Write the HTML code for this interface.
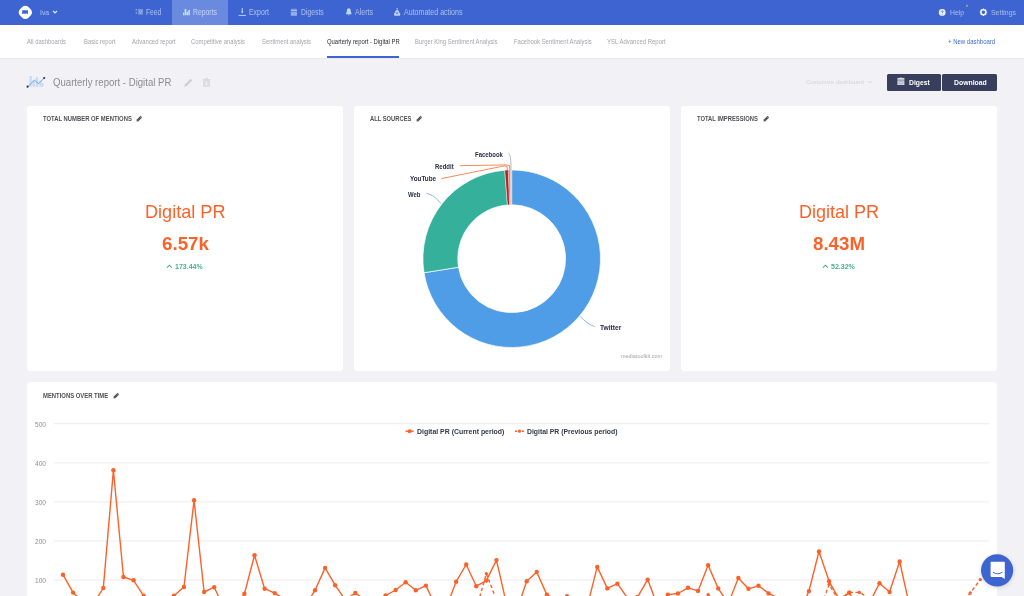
<!DOCTYPE html>
<html><head><meta charset="utf-8"><style>
html,body{margin:0;padding:0;}
body{width:1024px;height:596px;overflow:hidden;position:relative;background:#f2f2f6;font-family:"Liberation Sans",sans-serif;}
.t{position:absolute;line-height:1;white-space:nowrap;transform-origin:0 0;}
.r{position:absolute;}
.s{position:absolute;overflow:visible;}
</style></head><body>
<div class="r" style="left:0px;top:0px;width:1024px;height:25px;background:#3d64d0;"></div>
<div class="r" style="left:172px;top:0px;width:56px;height:25px;background:#6a8ae0;"></div>
<svg class="s" style="left:18px;top:5px;" width="15" height="15" viewBox="0 0 15 15"><rect x="1.35" y="1.3" width="12" height="12" rx="4.4" fill="#fff" transform="rotate(45 7.35 7.3)"/><path d="M4.2 5.2 H9.9 V9.1 H8.6 V8.2 H7.6 V9.1 H6.4 V8.2 H5.5 V9.1 H4.2 Z" fill="#3d64d0"/></svg>
<div class="t" style="left:39.90px;top:9.13px;font-size:8.00px;color:rgba(255,255,255,0.58);transform:scaleX(0.8527);">Iva</div>
<svg class="s" style="left:52px;top:10px;" width="6" height="4" viewBox="0 0 6 4"><path d="M1 1 L3 3 L5 1" stroke="rgba(255,255,255,0.85)" stroke-width="1.1" fill="none"/></svg>
<svg class="s" style="left:134px;top:8px;" width="11" height="8" viewBox="0 0 11 8"><g fill="rgba(215,232,255,0.72)"><circle cx="2.3" cy="1.8" r="0.7"/><circle cx="2.3" cy="5" r="0.7"/><rect x="4" y="0.9" width="5" height="5.8" fill="rgba(215,232,255,0.35)"/><circle cx="5.5" cy="3" r="0.6"/><circle cx="7.6" cy="3" r="0.6"/><circle cx="6.6" cy="5.1" r="0.6"/></g></svg>
<div class="t" style="left:146.10px;top:8.62px;font-size:8.20px;color:rgba(255,255,255,0.58);transform:scaleX(0.8186);">Feed</div>
<svg class="s" style="left:182px;top:8px;" width="9" height="8" viewBox="0 0 9 8"><g fill="rgba(215,235,255,0.85)"><rect x="1" y="4.6" width="1.3" height="2.7"/><rect x="2.6" y="1" width="1.7" height="6.3"/><rect x="4.6" y="3.6" width="1.4" height="3.7"/><rect x="6.3" y="2" width="1.6" height="5.3"/></g></svg>
<div class="t" style="left:193.30px;top:8.62px;font-size:8.20px;color:rgba(255,255,255,0.62);transform:scaleX(0.8359);">Reports</div>
<svg class="s" style="left:238px;top:7px;" width="9" height="10" viewBox="0 0 9 10"><g fill="rgba(215,235,255,0.8)"><path d="M3.7 1 H4.8 V4.6 L5.6 4.6 L4.25 6.4 L2.9 4.6 H3.7 Z"/><rect x="0.6" y="7.9" width="7.4" height="1"/></g></svg>
<div class="t" style="left:249.20px;top:8.62px;font-size:8.20px;color:rgba(255,255,255,0.58);transform:scaleX(0.8439);">Export</div>
<svg class="s" style="left:290px;top:7px;" width="9" height="10" viewBox="0 0 9 10"><g fill="rgba(215,232,255,0.72)"><rect x="0.8" y="2.6" width="6.2" height="1.6"/><rect x="1.6" y="1.6" width="0.7" height="1"/><rect x="3.6" y="1.4" width="0.7" height="1.2"/><rect x="5.5" y="1.6" width="0.7" height="1"/><rect x="0.8" y="4.8" width="6.2" height="4" fill="rgba(215,232,255,0.55)"/></g></svg>
<div class="t" style="left:301.10px;top:8.62px;font-size:8.20px;color:rgba(255,255,255,0.58);transform:scaleX(0.8338);">Digests</div>
<svg class="s" style="left:345px;top:7px;" width="8" height="10" viewBox="0 0 8 10"><path d="M3.8 1.3 C2.2 1.3 1.8 2.8 1.8 4.6 L0.9 7.3 H6.7 L5.8 4.6 C5.8 2.8 5.4 1.3 3.8 1.3 Z M3 7.8 H4.6 L3.8 8.8Z" fill="rgba(215,235,255,0.85)"/></svg>
<div class="t" style="left:355.20px;top:8.62px;font-size:8.20px;color:rgba(255,255,255,0.58);transform:scaleX(0.8587);">Alerts</div>
<svg class="s" style="left:393px;top:7px;" width="9" height="10" viewBox="0 0 9 10"><g fill="rgba(215,235,255,0.8)"><rect x="3.6" y="1" width="1" height="1.8"/><path d="M4.1 2.4 L6.2 4.6 L5.9 5.6 H2.3 L2 4.6 Z"/><path d="M1.6 5.4 H6.6 L7.4 7 L6.8 8.8 H1.4 L0.8 7 Z"/></g><circle cx="4.1" cy="6.3" r="0.7" fill="#3d64d0"/></svg>
<div class="t" style="left:404.40px;top:8.62px;font-size:8.20px;color:rgba(255,255,255,0.58);transform:scaleX(0.8628);">Automated actions</div>
<svg class="s" style="left:937px;top:7px;" width="10" height="10" viewBox="0 0 10 10"><circle cx="5.2" cy="5.4" r="3.4" fill="rgba(255,255,255,0.9)"/><path d="M4.2 4.6 C4.2 3.6 6.2 3.6 6.2 4.6 C6.2 5.3 5.2 5.2 5.2 6" stroke="#3d64d0" stroke-width="0.8" fill="none"/><circle cx="5.2" cy="7" r="0.45" fill="#3d64d0"/></svg>
<div class="t" style="left:949.60px;top:8.73px;font-size:8.00px;color:rgba(255,255,255,0.55);transform:scaleX(0.8630);">Help</div>
<svg class="s" style="left:965px;top:3.5px;" width="4" height="4" viewBox="0 0 4 4"><circle cx="2" cy="1.8" r="1.1" fill="#a89f84"/></svg>
<svg class="s" style="left:978px;top:7px;" width="10" height="10" viewBox="0 0 10 10"><circle cx="5.4" cy="5.3" r="2.5" fill="none" stroke="rgba(255,255,255,0.9)" stroke-width="1.6"/><g stroke="rgba(255,255,255,0.9)" stroke-width="1.1"><path d="M5.4 1.6V2.5M5.4 8.1V9M1.7 5.3H2.6M8.2 5.3H9.1M2.8 2.7L3.4 3.3M7.4 7.3L8 7.9M2.8 7.9L3.4 7.3M7.4 3.3L8 2.7"/></g></svg>
<div class="t" style="left:990.70px;top:8.73px;font-size:8.00px;color:rgba(255,255,255,0.55);transform:scaleX(0.8648);">Settings</div>
<div class="r" style="left:0px;top:25px;width:1024px;height:33px;background:#ffffff;"></div>
<div class="r" style="left:0px;top:58px;width:1024px;height:1px;background:#e9e9ee;"></div>
<div class="t" style="left:26.90px;top:39.11px;font-size:6.30px;color:#a5a5ac;transform:scaleX(0.9358);">All dashboards</div>
<div class="t" style="left:83.75px;top:39.11px;font-size:6.30px;color:#a5a5ac;transform:scaleX(0.9371);">Basic report</div>
<div class="t" style="left:131.60px;top:39.11px;font-size:6.30px;color:#a5a5ac;transform:scaleX(0.9453);">Advanced report</div>
<div class="t" style="left:191.25px;top:39.11px;font-size:6.30px;color:#a5a5ac;transform:scaleX(0.9347);">Competitive analysis</div>
<div class="t" style="left:261.60px;top:39.11px;font-size:6.30px;color:#a5a5ac;transform:scaleX(0.9267);">Sentiment analysis</div>
<div class="t" style="left:326.70px;top:39.11px;font-size:6.30px;color:#2b2b33;transform:scaleX(0.9366);">Quarterly report - Digital PR</div>
<div class="t" style="left:415.30px;top:39.11px;font-size:6.30px;color:#a5a5ac;transform:scaleX(0.9360);">Burger King Sentiment Analysis</div>
<div class="t" style="left:513.70px;top:39.11px;font-size:6.30px;color:#a5a5ac;transform:scaleX(0.9401);">Facebook Sentiment Analysis</div>
<div class="t" style="left:607.30px;top:39.11px;font-size:6.30px;color:#a5a5ac;transform:scaleX(0.9505);">YSL Advanced Report</div>
<div class="r" style="left:326.7px;top:56px;width:72.8px;height:1.6px;background:#3d64d0;"></div>
<div class="t" style="left:947.80px;top:39.00px;font-size:6.50px;color:#3d6ad6;transform:scaleX(0.9231);">+ New dashboard</div>
<svg class="s" style="left:26px;top:74px;" width="20" height="15" viewBox="0 0 20 15"><g fill="#c5dcf4"><rect x="3.5" y="2" width="2.2" height="10.9"/><rect x="6.5" y="6" width="2.4" height="6.9"/><rect x="9.8" y="3.2" width="2.4" height="9.7"/><rect x="13.3" y="6.5" width="2.4" height="6.4"/><rect x="16" y="9" width="1.4" height="3.9"/></g><polyline points="1.6,12.7 8.5,6.2 12.4,9.8 18.2,4" fill="none" stroke="#6f9ae0" stroke-width="0.9"/><circle cx="1.6" cy="12.7" r="1.1" fill="#2f3552"/><circle cx="18.2" cy="4" r="1.1" fill="#2f3552"/></svg>
<div class="t" style="left:52.90px;top:78.03px;font-size:10.20px;color:#8a8a92;transform:scaleX(0.9417);">Quarterly report - Digital PR</div>
<svg class="s" style="left:183px;top:77px;" width="11" height="11" viewBox="0 0 11 11"><path d="M1.3 9.8 L1.8 7.6 L7.6 1.8 L9.3 3.5 L3.5 9.3 Z" fill="#cfcfd4"/></svg>
<svg class="s" style="left:202px;top:77px;" width="9" height="11" viewBox="0 0 9 11"><g fill="#dadadf"><rect x="1" y="3" width="7" height="6.8" rx="0.6"/><rect x="0.6" y="2" width="7.8" height="1"/><rect x="3.3" y="0.8" width="2.4" height="1.4"/></g><g fill="#eeeef2"><rect x="2.7" y="4.5" width="0.8" height="4"/><rect x="4.1" y="4.5" width="0.8" height="4"/><rect x="5.5" y="4.5" width="0.8" height="4"/></g></svg>
<div class="t" style="left:805.80px;top:78.91px;font-size:6.20px;color:#d2d2d8;transform:scaleX(0.9617);">Customize dashboard</div>
<svg class="s" style="left:867px;top:80px;" width="6" height="4" viewBox="0 0 6 4"><path d="M1 1 L3 3 L5 1" stroke="#d2d2d8" stroke-width="0.8" fill="none"/></svg>
<div class="r" style="left:887px;top:74px;width:53.5px;height:17px;background:#373f5d;border-radius:1.5px;"></div>
<div class="r" style="left:942.4px;top:74px;width:55px;height:17px;background:#373f5d;border-radius:1.5px;"></div>
<svg class="s" style="left:896px;top:76px;" width="10" height="10" viewBox="0 0 10 10"><g fill="rgba(235,235,240,0.88)"><rect x="1.4" y="1.9" width="7" height="1.9"/><rect x="4.5" y="1.1" width="0.8" height="1"/><rect x="1.4" y="4.3" width="7" height="4.7"/></g><ellipse cx="4.9" cy="6.6" rx="2.2" ry="1.3" fill="none" stroke="rgba(55,63,93,0.35)" stroke-width="0.7"/></svg>
<div class="t" style="left:908.80px;top:79.25px;font-size:7.60px;color:#ffffff;font-weight:bold;transform:scaleX(0.8955);">Digest</div>
<div class="t" style="left:953.50px;top:79.25px;font-size:7.60px;color:#ffffff;font-weight:bold;transform:scaleX(0.9034);">Download</div>
<div class="r" style="left:27px;top:106px;width:316px;height:265px;background:#ffffff;border-radius:3px;"></div>
<div class="r" style="left:354px;top:106px;width:316px;height:265px;background:#ffffff;border-radius:3px;"></div>
<div class="r" style="left:681px;top:106px;width:316px;height:265px;background:#ffffff;border-radius:3px;"></div>
<div class="r" style="left:27px;top:382px;width:970px;height:300px;background:#ffffff;border-radius:3px;"></div>
<div class="t" style="left:43.00px;top:115.59px;font-size:6.80px;color:#505058;font-weight:bold;transform:scaleX(0.8652);">TOTAL NUMBER OF MENTIONS</div>
<svg class="s" style="left:136px;top:115px;" width="7" height="7" viewBox="0 0 7 7"><path d="M0.5 6.5 L0.8 4.6 L4.6 0.8 L6.2 2.4 L2.4 6.2 Z" fill="#555"/><path d="M4 1.6 L5.4 3" stroke="#fff" stroke-width="0.4"/></svg>
<div class="t" style="left:369.70px;top:115.59px;font-size:6.80px;color:#505058;font-weight:bold;transform:scaleX(0.8516);">ALL SOURCES</div>
<svg class="s" style="left:415.5px;top:115px;" width="7" height="7" viewBox="0 0 7 7"><path d="M0.5 6.5 L0.8 4.6 L4.6 0.8 L6.2 2.4 L2.4 6.2 Z" fill="#555"/><path d="M4 1.6 L5.4 3" stroke="#fff" stroke-width="0.4"/></svg>
<div class="t" style="left:697.00px;top:115.59px;font-size:6.80px;color:#505058;font-weight:bold;transform:scaleX(0.8573);">TOTAL IMPRESSIONS</div>
<svg class="s" style="left:762.5px;top:115px;" width="7" height="7" viewBox="0 0 7 7"><path d="M0.5 6.5 L0.8 4.6 L4.6 0.8 L6.2 2.4 L2.4 6.2 Z" fill="#555"/><path d="M4 1.6 L5.4 3" stroke="#fff" stroke-width="0.4"/></svg>
<div class="t" style="left:42.80px;top:392.59px;font-size:6.80px;color:#505058;font-weight:bold;transform:scaleX(0.8672);">MENTIONS OVER TIME</div>
<svg class="s" style="left:112.7px;top:392px;" width="7" height="7" viewBox="0 0 7 7"><path d="M0.5 6.5 L0.8 4.6 L4.6 0.8 L6.2 2.4 L2.4 6.2 Z" fill="#555"/><path d="M4 1.6 L5.4 3" stroke="#fff" stroke-width="0.4"/></svg>
<div class="t" style="left:144.70px;top:204.18px;font-size:17.80px;color:#fb6229;transform:scaleX(1.0185);">Digital PR</div>
<div class="t" style="left:161.50px;top:236.48px;font-size:17.80px;color:#fb6229;font-weight:bold;transform:scaleX(1.0551);">6.57k</div>
<svg class="s" style="left:166px;top:263px;" width="7" height="6" viewBox="0 0 7 6"><path d="M1 4.6 L3.4 2.2 L5.8 4.6" stroke="#48b08a" stroke-width="1.1" fill="none"/></svg>
<div class="t" style="left:174.50px;top:263.58px;font-size:6.90px;color:#48b08a;font-weight:bold;transform:scaleX(1.0169);">173.44%</div>
<div class="t" style="left:799.10px;top:204.18px;font-size:17.80px;color:#fb6229;transform:scaleX(1.0134);">Digital PR</div>
<div class="t" style="left:812.50px;top:236.48px;font-size:17.80px;color:#fb6229;font-weight:bold;transform:scaleX(1.0511);">8.43M</div>
<svg class="s" style="left:822px;top:263px;" width="7" height="6" viewBox="0 0 7 6"><path d="M1 4.6 L3.4 2.2 L5.8 4.6" stroke="#48b08a" stroke-width="1.1" fill="none"/></svg>
<div class="t" style="left:830.50px;top:263.58px;font-size:6.90px;color:#48b08a;font-weight:bold;transform:scaleX(1.0213);">52.32%</div>
<svg class="s" style="left:0;top:0" width="1024" height="596"><path d="M511.70 169.90 A88.8 88.8 0 1 1 424.02 272.74 L458.48 267.22 A53.9 53.9 0 1 0 511.70 204.80 Z" fill="#4f9de6" stroke="#fff" stroke-width="0.7" stroke-linejoin="round"/><path d="M424.02 272.74 A88.8 88.8 0 0 1 504.81 170.17 L507.52 204.96 A53.9 53.9 0 0 0 458.48 267.22 Z" fill="#35b09a" stroke="#fff" stroke-width="0.7" stroke-linejoin="round"/><path d="M504.81 170.17 A88.8 88.8 0 0 1 508.21 169.97 L509.58 204.84 A53.9 53.9 0 0 0 507.52 204.96 Z" fill="#b5212a" stroke="#fff" stroke-width="0.35" stroke-linejoin="round"/><path d="M508.21 169.97 A88.8 88.8 0 0 1 510.07 169.91 L510.71 204.81 A53.9 53.9 0 0 0 509.58 204.84 Z" fill="#f6803f" stroke="#fff" stroke-width="0.2" stroke-linejoin="round"/><path d="M510.07 169.91 A88.8 88.8 0 0 1 511.70 169.90 L511.70 204.80 A53.9 53.9 0 0 0 510.71 204.81 Z" fill="#c4c6cc" stroke="#fff" stroke-width="0.2" stroke-linejoin="round"/><path d="M508.4 153.2 C510.4 154.5 511 158 511 170" stroke="#b4b8c2" stroke-width="1" fill="none"/><path d="M460 165.7 L506 164.9 L509.5 165.5 L509.8 170" stroke="#f97d45" stroke-width="0.9" fill="none"/><path d="M441.3 178.6 L504.3 165.9 L507 166.3 L507.3 170" stroke="#f97d45" stroke-width="0.9" fill="none"/><path d="M426.4 193.3 C432 194.5 436 197.5 441 203.6" stroke="#6da6e8" stroke-width="0.8" fill="none"/><path d="M580 316.4 C585 321 589 325 594.7 326.5" stroke="#6da6e8" stroke-width="0.8" fill="none"/></svg>
<div class="t" style="left:475.00px;top:151.88px;font-size:6.90px;color:#2a2e48;font-weight:bold;transform:scaleX(0.8662);">Facebook</div>
<div class="t" style="left:435.20px;top:164.28px;font-size:6.90px;color:#2a2e48;font-weight:bold;transform:scaleX(0.8712);">Reddit</div>
<div class="t" style="left:410.00px;top:176.48px;font-size:6.90px;color:#2a2e48;font-weight:bold;transform:scaleX(0.9161);">YouTube</div>
<div class="t" style="left:408.00px;top:192.38px;font-size:6.90px;color:#2a2e48;font-weight:bold;transform:scaleX(0.8656);">Web</div>
<div class="t" style="left:600.30px;top:324.68px;font-size:6.90px;color:#2a2e48;font-weight:bold;transform:scaleX(0.9636);">Twitter</div>
<div class="t" style="left:621.00px;top:354.33px;font-size:5.80px;color:#a3a3aa;transform:scaleX(0.9421);">mediatoolkit.com</div>
<svg class="s" style="left:0;top:0" width="1024" height="596"><rect x="54" y="423.25" width="935" height="1" fill="#ececf0"/><rect x="54" y="462.32" width="935" height="1" fill="#ececf0"/><rect x="54" y="501.39" width="935" height="1" fill="#ececf0"/><rect x="54" y="540.46" width="935" height="1" fill="#ececf0"/><rect x="54" y="579.53" width="935" height="1" fill="#ececf0"/></svg>
<div class="t" style="left:34.80px;top:421.76px;font-size:6.40px;color:#8d8d95;transform:scaleX(1.0301);">500</div>
<div class="t" style="left:34.80px;top:460.83px;font-size:6.40px;color:#8d8d95;transform:scaleX(1.0301);">400</div>
<div class="t" style="left:34.80px;top:499.90px;font-size:6.40px;color:#8d8d95;transform:scaleX(1.0301);">300</div>
<div class="t" style="left:34.80px;top:538.97px;font-size:6.40px;color:#8d8d95;transform:scaleX(1.0301);">200</div>
<div class="t" style="left:34.80px;top:578.04px;font-size:6.40px;color:#8d8d95;transform:scaleX(1.0301);">100</div>
<svg class="s" style="left:0;top:0" width="1024" height="596"><polyline points="63.00,612.00 73.08,612.00 83.16,612.00 93.24,612.00 103.32,612.00 113.40,612.00 123.48,612.00 133.56,612.00 143.64,612.00 153.72,612.00 163.80,612.00 173.88,612.00 183.96,612.00 194.04,612.00 204.12,612.00 214.20,612.00 224.28,612.00 234.36,612.00 244.44,612.00 254.52,612.00 264.60,612.00 274.68,612.00 284.76,612.00 294.84,612.00 304.92,612.00 315.00,612.00 325.08,606.00 335.16,598.00 345.24,606.00 355.32,612.00 365.40,612.00 375.48,612.00 385.56,612.00 395.64,612.00 405.72,612.00 415.80,612.00 425.88,605.00 435.96,598.00 446.04,605.00 456.12,612.00 466.20,612.00 476.28,609.00 486.36,573.70 496.44,600.00 506.52,612.00 516.60,612.00 526.68,612.00 536.76,612.00 546.84,612.00 556.92,612.00 567.00,612.00 577.08,612.00 587.16,612.00 597.24,612.00 607.32,612.00 617.40,612.00 627.48,612.00 637.56,612.00 647.64,612.00 657.72,612.00 667.80,612.00 677.88,612.00 687.96,612.00 698.04,603.00 708.12,594.60 718.20,604.00 728.28,612.00 738.36,612.00 748.44,612.00 758.52,612.00 768.60,612.00 778.68,612.00 788.76,612.00 798.84,612.00 808.92,612.00 819.00,612.50 829.08,584.50 839.16,601.00 849.24,592.30 859.32,592.40 869.40,598.00 879.48,604.00 889.56,612.00 899.64,612.00 909.72,612.00 919.80,612.00 929.88,612.00 939.96,612.00 950.04,612.00 960.12,606.00 970.20,593.00 980.28,579.60" fill="none" stroke="#fb6229" stroke-width="1.4" stroke-dasharray="3.5 2.5" stroke-linejoin="round"/><circle cx="63.00" cy="612.00" r="1.7" fill="#fb6229"/><circle cx="73.08" cy="612.00" r="1.7" fill="#fb6229"/><circle cx="83.16" cy="612.00" r="1.7" fill="#fb6229"/><circle cx="93.24" cy="612.00" r="1.7" fill="#fb6229"/><circle cx="103.32" cy="612.00" r="1.7" fill="#fb6229"/><circle cx="113.40" cy="612.00" r="1.7" fill="#fb6229"/><circle cx="123.48" cy="612.00" r="1.7" fill="#fb6229"/><circle cx="133.56" cy="612.00" r="1.7" fill="#fb6229"/><circle cx="143.64" cy="612.00" r="1.7" fill="#fb6229"/><circle cx="153.72" cy="612.00" r="1.7" fill="#fb6229"/><circle cx="163.80" cy="612.00" r="1.7" fill="#fb6229"/><circle cx="173.88" cy="612.00" r="1.7" fill="#fb6229"/><circle cx="183.96" cy="612.00" r="1.7" fill="#fb6229"/><circle cx="194.04" cy="612.00" r="1.7" fill="#fb6229"/><circle cx="204.12" cy="612.00" r="1.7" fill="#fb6229"/><circle cx="214.20" cy="612.00" r="1.7" fill="#fb6229"/><circle cx="224.28" cy="612.00" r="1.7" fill="#fb6229"/><circle cx="234.36" cy="612.00" r="1.7" fill="#fb6229"/><circle cx="244.44" cy="612.00" r="1.7" fill="#fb6229"/><circle cx="254.52" cy="612.00" r="1.7" fill="#fb6229"/><circle cx="264.60" cy="612.00" r="1.7" fill="#fb6229"/><circle cx="274.68" cy="612.00" r="1.7" fill="#fb6229"/><circle cx="284.76" cy="612.00" r="1.7" fill="#fb6229"/><circle cx="294.84" cy="612.00" r="1.7" fill="#fb6229"/><circle cx="304.92" cy="612.00" r="1.7" fill="#fb6229"/><circle cx="315.00" cy="612.00" r="1.7" fill="#fb6229"/><circle cx="325.08" cy="606.00" r="1.7" fill="#fb6229"/><circle cx="335.16" cy="598.00" r="1.7" fill="#fb6229"/><circle cx="345.24" cy="606.00" r="1.7" fill="#fb6229"/><circle cx="355.32" cy="612.00" r="1.7" fill="#fb6229"/><circle cx="365.40" cy="612.00" r="1.7" fill="#fb6229"/><circle cx="375.48" cy="612.00" r="1.7" fill="#fb6229"/><circle cx="385.56" cy="612.00" r="1.7" fill="#fb6229"/><circle cx="395.64" cy="612.00" r="1.7" fill="#fb6229"/><circle cx="405.72" cy="612.00" r="1.7" fill="#fb6229"/><circle cx="415.80" cy="612.00" r="1.7" fill="#fb6229"/><circle cx="425.88" cy="605.00" r="1.7" fill="#fb6229"/><circle cx="435.96" cy="598.00" r="1.7" fill="#fb6229"/><circle cx="446.04" cy="605.00" r="1.7" fill="#fb6229"/><circle cx="456.12" cy="612.00" r="1.7" fill="#fb6229"/><circle cx="466.20" cy="612.00" r="1.7" fill="#fb6229"/><circle cx="476.28" cy="609.00" r="1.7" fill="#fb6229"/><circle cx="486.36" cy="573.70" r="1.7" fill="#fb6229"/><circle cx="496.44" cy="600.00" r="1.7" fill="#fb6229"/><circle cx="506.52" cy="612.00" r="1.7" fill="#fb6229"/><circle cx="516.60" cy="612.00" r="1.7" fill="#fb6229"/><circle cx="526.68" cy="612.00" r="1.7" fill="#fb6229"/><circle cx="536.76" cy="612.00" r="1.7" fill="#fb6229"/><circle cx="546.84" cy="612.00" r="1.7" fill="#fb6229"/><circle cx="556.92" cy="612.00" r="1.7" fill="#fb6229"/><circle cx="567.00" cy="612.00" r="1.7" fill="#fb6229"/><circle cx="577.08" cy="612.00" r="1.7" fill="#fb6229"/><circle cx="587.16" cy="612.00" r="1.7" fill="#fb6229"/><circle cx="597.24" cy="612.00" r="1.7" fill="#fb6229"/><circle cx="607.32" cy="612.00" r="1.7" fill="#fb6229"/><circle cx="617.40" cy="612.00" r="1.7" fill="#fb6229"/><circle cx="627.48" cy="612.00" r="1.7" fill="#fb6229"/><circle cx="637.56" cy="612.00" r="1.7" fill="#fb6229"/><circle cx="647.64" cy="612.00" r="1.7" fill="#fb6229"/><circle cx="657.72" cy="612.00" r="1.7" fill="#fb6229"/><circle cx="667.80" cy="612.00" r="1.7" fill="#fb6229"/><circle cx="677.88" cy="612.00" r="1.7" fill="#fb6229"/><circle cx="687.96" cy="612.00" r="1.7" fill="#fb6229"/><circle cx="698.04" cy="603.00" r="1.7" fill="#fb6229"/><circle cx="708.12" cy="594.60" r="1.7" fill="#fb6229"/><circle cx="718.20" cy="604.00" r="1.7" fill="#fb6229"/><circle cx="728.28" cy="612.00" r="1.7" fill="#fb6229"/><circle cx="738.36" cy="612.00" r="1.7" fill="#fb6229"/><circle cx="748.44" cy="612.00" r="1.7" fill="#fb6229"/><circle cx="758.52" cy="612.00" r="1.7" fill="#fb6229"/><circle cx="768.60" cy="612.00" r="1.7" fill="#fb6229"/><circle cx="778.68" cy="612.00" r="1.7" fill="#fb6229"/><circle cx="788.76" cy="612.00" r="1.7" fill="#fb6229"/><circle cx="798.84" cy="612.00" r="1.7" fill="#fb6229"/><circle cx="808.92" cy="612.00" r="1.7" fill="#fb6229"/><circle cx="819.00" cy="612.50" r="1.7" fill="#fb6229"/><circle cx="829.08" cy="584.50" r="1.7" fill="#fb6229"/><circle cx="839.16" cy="601.00" r="1.7" fill="#fb6229"/><circle cx="849.24" cy="592.30" r="1.7" fill="#fb6229"/><circle cx="859.32" cy="592.40" r="1.7" fill="#fb6229"/><circle cx="869.40" cy="598.00" r="1.7" fill="#fb6229"/><circle cx="879.48" cy="604.00" r="1.7" fill="#fb6229"/><circle cx="889.56" cy="612.00" r="1.7" fill="#fb6229"/><circle cx="899.64" cy="612.00" r="1.7" fill="#fb6229"/><circle cx="909.72" cy="612.00" r="1.7" fill="#fb6229"/><circle cx="919.80" cy="612.00" r="1.7" fill="#fb6229"/><circle cx="929.88" cy="612.00" r="1.7" fill="#fb6229"/><circle cx="939.96" cy="612.00" r="1.7" fill="#fb6229"/><circle cx="950.04" cy="612.00" r="1.7" fill="#fb6229"/><circle cx="960.12" cy="606.00" r="1.7" fill="#fb6229"/><circle cx="970.20" cy="593.00" r="1.7" fill="#fb6229"/><circle cx="980.28" cy="579.60" r="1.7" fill="#fb6229"/><polyline points="63.00,574.70 73.08,592.60 83.16,602.00 93.24,604.00 103.32,588.00 113.40,470.30 123.48,577.00 133.56,580.30 143.64,595.80 153.72,605.00 163.80,605.00 173.88,595.80 183.96,587.00 194.04,500.30 204.12,592.00 214.20,587.20 224.28,608.60 234.36,608.00 244.44,593.70 254.52,555.30 264.60,588.70 274.68,593.10 284.76,599.00 294.84,605.00 304.92,606.50 315.00,590.30 325.08,567.90 335.16,585.20 345.24,599.80 355.32,593.00 365.40,600.00 375.48,600.00 385.56,595.50 395.64,590.00 405.72,582.30 415.80,590.30 425.88,585.60 435.96,607.00 446.04,608.00 456.12,581.70 466.20,564.50 476.28,586.20 486.36,580.60 496.44,560.10 506.52,604.00 516.60,611.00 526.68,581.30 536.76,572.00 546.84,594.60 556.92,600.00 567.00,596.20 577.08,605.00 587.16,606.60 597.24,566.90 607.32,588.40 617.40,583.70 627.48,598.00 637.56,597.00 647.64,579.60 657.72,606.00 667.80,594.60 677.88,593.50 687.96,587.80 698.04,590.90 708.12,565.30 718.20,588.40 728.28,603.60 738.36,577.90 748.44,588.80 758.52,585.80 768.60,593.40 778.68,598.20 788.76,602.00 798.84,615.00 808.92,591.10 819.00,551.50 829.08,581.30 839.16,599.30 849.24,592.70 859.32,609.00 869.40,603.00 879.48,583.20 889.56,592.00 899.64,561.50 909.72,606.70 919.80,610.00 929.88,610.00 939.96,610.00 950.04,610.00 960.12,610.00 970.20,610.00 980.28,610.00" fill="none" stroke="#fb6229" stroke-width="1.4" stroke-linejoin="round"/><circle cx="63.00" cy="574.70" r="2.2" fill="#fb6229"/><circle cx="73.08" cy="592.60" r="2.2" fill="#fb6229"/><circle cx="83.16" cy="602.00" r="2.2" fill="#fb6229"/><circle cx="93.24" cy="604.00" r="2.2" fill="#fb6229"/><circle cx="103.32" cy="588.00" r="2.2" fill="#fb6229"/><circle cx="113.40" cy="470.30" r="2.2" fill="#fb6229"/><circle cx="123.48" cy="577.00" r="2.2" fill="#fb6229"/><circle cx="133.56" cy="580.30" r="2.2" fill="#fb6229"/><circle cx="143.64" cy="595.80" r="2.2" fill="#fb6229"/><circle cx="153.72" cy="605.00" r="2.2" fill="#fb6229"/><circle cx="163.80" cy="605.00" r="2.2" fill="#fb6229"/><circle cx="173.88" cy="595.80" r="2.2" fill="#fb6229"/><circle cx="183.96" cy="587.00" r="2.2" fill="#fb6229"/><circle cx="194.04" cy="500.30" r="2.2" fill="#fb6229"/><circle cx="204.12" cy="592.00" r="2.2" fill="#fb6229"/><circle cx="214.20" cy="587.20" r="2.2" fill="#fb6229"/><circle cx="224.28" cy="608.60" r="2.2" fill="#fb6229"/><circle cx="234.36" cy="608.00" r="2.2" fill="#fb6229"/><circle cx="244.44" cy="593.70" r="2.2" fill="#fb6229"/><circle cx="254.52" cy="555.30" r="2.2" fill="#fb6229"/><circle cx="264.60" cy="588.70" r="2.2" fill="#fb6229"/><circle cx="274.68" cy="593.10" r="2.2" fill="#fb6229"/><circle cx="284.76" cy="599.00" r="2.2" fill="#fb6229"/><circle cx="294.84" cy="605.00" r="2.2" fill="#fb6229"/><circle cx="304.92" cy="606.50" r="2.2" fill="#fb6229"/><circle cx="315.00" cy="590.30" r="2.2" fill="#fb6229"/><circle cx="325.08" cy="567.90" r="2.2" fill="#fb6229"/><circle cx="335.16" cy="585.20" r="2.2" fill="#fb6229"/><circle cx="345.24" cy="599.80" r="2.2" fill="#fb6229"/><circle cx="355.32" cy="593.00" r="2.2" fill="#fb6229"/><circle cx="365.40" cy="600.00" r="2.2" fill="#fb6229"/><circle cx="375.48" cy="600.00" r="2.2" fill="#fb6229"/><circle cx="385.56" cy="595.50" r="2.2" fill="#fb6229"/><circle cx="395.64" cy="590.00" r="2.2" fill="#fb6229"/><circle cx="405.72" cy="582.30" r="2.2" fill="#fb6229"/><circle cx="415.80" cy="590.30" r="2.2" fill="#fb6229"/><circle cx="425.88" cy="585.60" r="2.2" fill="#fb6229"/><circle cx="435.96" cy="607.00" r="2.2" fill="#fb6229"/><circle cx="446.04" cy="608.00" r="2.2" fill="#fb6229"/><circle cx="456.12" cy="581.70" r="2.2" fill="#fb6229"/><circle cx="466.20" cy="564.50" r="2.2" fill="#fb6229"/><circle cx="476.28" cy="586.20" r="2.2" fill="#fb6229"/><circle cx="486.36" cy="580.60" r="2.2" fill="#fb6229"/><circle cx="496.44" cy="560.10" r="2.2" fill="#fb6229"/><circle cx="506.52" cy="604.00" r="2.2" fill="#fb6229"/><circle cx="516.60" cy="611.00" r="2.2" fill="#fb6229"/><circle cx="526.68" cy="581.30" r="2.2" fill="#fb6229"/><circle cx="536.76" cy="572.00" r="2.2" fill="#fb6229"/><circle cx="546.84" cy="594.60" r="2.2" fill="#fb6229"/><circle cx="556.92" cy="600.00" r="2.2" fill="#fb6229"/><circle cx="567.00" cy="596.20" r="2.2" fill="#fb6229"/><circle cx="577.08" cy="605.00" r="2.2" fill="#fb6229"/><circle cx="587.16" cy="606.60" r="2.2" fill="#fb6229"/><circle cx="597.24" cy="566.90" r="2.2" fill="#fb6229"/><circle cx="607.32" cy="588.40" r="2.2" fill="#fb6229"/><circle cx="617.40" cy="583.70" r="2.2" fill="#fb6229"/><circle cx="627.48" cy="598.00" r="2.2" fill="#fb6229"/><circle cx="637.56" cy="597.00" r="2.2" fill="#fb6229"/><circle cx="647.64" cy="579.60" r="2.2" fill="#fb6229"/><circle cx="657.72" cy="606.00" r="2.2" fill="#fb6229"/><circle cx="667.80" cy="594.60" r="2.2" fill="#fb6229"/><circle cx="677.88" cy="593.50" r="2.2" fill="#fb6229"/><circle cx="687.96" cy="587.80" r="2.2" fill="#fb6229"/><circle cx="698.04" cy="590.90" r="2.2" fill="#fb6229"/><circle cx="708.12" cy="565.30" r="2.2" fill="#fb6229"/><circle cx="718.20" cy="588.40" r="2.2" fill="#fb6229"/><circle cx="728.28" cy="603.60" r="2.2" fill="#fb6229"/><circle cx="738.36" cy="577.90" r="2.2" fill="#fb6229"/><circle cx="748.44" cy="588.80" r="2.2" fill="#fb6229"/><circle cx="758.52" cy="585.80" r="2.2" fill="#fb6229"/><circle cx="768.60" cy="593.40" r="2.2" fill="#fb6229"/><circle cx="778.68" cy="598.20" r="2.2" fill="#fb6229"/><circle cx="788.76" cy="602.00" r="2.2" fill="#fb6229"/><circle cx="798.84" cy="615.00" r="2.2" fill="#fb6229"/><circle cx="808.92" cy="591.10" r="2.2" fill="#fb6229"/><circle cx="819.00" cy="551.50" r="2.2" fill="#fb6229"/><circle cx="829.08" cy="581.30" r="2.2" fill="#fb6229"/><circle cx="839.16" cy="599.30" r="2.2" fill="#fb6229"/><circle cx="849.24" cy="592.70" r="2.2" fill="#fb6229"/><circle cx="859.32" cy="609.00" r="2.2" fill="#fb6229"/><circle cx="869.40" cy="603.00" r="2.2" fill="#fb6229"/><circle cx="879.48" cy="583.20" r="2.2" fill="#fb6229"/><circle cx="889.56" cy="592.00" r="2.2" fill="#fb6229"/><circle cx="899.64" cy="561.50" r="2.2" fill="#fb6229"/><circle cx="909.72" cy="606.70" r="2.2" fill="#fb6229"/><circle cx="919.80" cy="610.00" r="2.2" fill="#fb6229"/><circle cx="929.88" cy="610.00" r="2.2" fill="#fb6229"/><circle cx="939.96" cy="610.00" r="2.2" fill="#fb6229"/><circle cx="950.04" cy="610.00" r="2.2" fill="#fb6229"/><circle cx="960.12" cy="610.00" r="2.2" fill="#fb6229"/><circle cx="970.20" cy="610.00" r="2.2" fill="#fb6229"/><circle cx="980.28" cy="610.00" r="2.2" fill="#fb6229"/><path d="M405.5 431.2 H413.7" stroke="#fb6229" stroke-width="1.4"/><circle cx="409.6" cy="431.2" r="2" fill="#fb6229"/><path d="M515 431.2 H524" stroke="#fb6229" stroke-width="1.4" stroke-dasharray="2 1.5"/><circle cx="519.5" cy="431.2" r="1.6" fill="#fb6229"/></svg>
<div class="t" style="left:417.30px;top:428.59px;font-size:6.80px;color:#33374a;font-weight:bold;transform:scaleX(1.0191);">Digital PR (Current period)</div>
<div class="t" style="left:526.70px;top:428.59px;font-size:6.80px;color:#33374a;font-weight:bold;transform:scaleX(1.0064);">Digital PR (Previous period)</div>
<svg class="s" style="left:979px;top:552px;filter:drop-shadow(0 1px 2px rgba(0,0,0,0.15));" width="36" height="36" viewBox="0 0 36 36"><circle cx="18.1" cy="18.3" r="16.1" fill="#3d64d0"/><path d="M12.4 9.8 H25 Q25.8 9.8 25.8 10.6 V27 L22.6 24.9 H12.4 Q11.6 24.9 11.6 24.1 V10.6 Q11.6 9.8 12.4 9.8 Z" fill="#fff"/><path d="M14.2 20.4 Q18.6 23.4 23 20.4" stroke="#3d64d0" stroke-width="1.0" fill="none" stroke-linecap="round"/></svg>
</body></html>
